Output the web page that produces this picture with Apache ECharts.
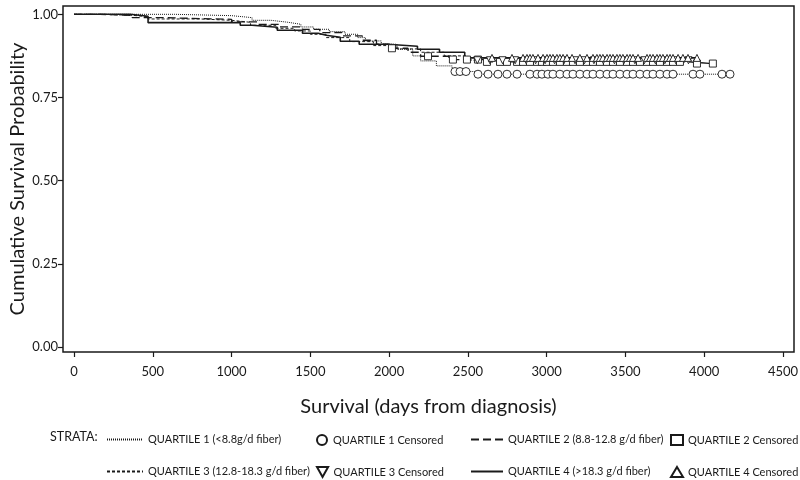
<!DOCTYPE html>
<html><head><meta charset="utf-8">
<script src="https://cdn.jsdelivr.net/npm/echarts@6/dist/echarts.min.js"></script>
<style>html,body{margin:0;padding:0;background:#fff}#c{width:800px;height:480px}</style>
</head><body><div id="c"></div>
<script>
// ---- data ----
var xTicks = [0,500,1000,1500,2000,2500,3000,3500,4000,4500];
var yTicks = [0,0.25,0.5,0.75,1];
var names = ['QUARTILE 1 (<8.8g/d fiber)','QUARTILE 2 (8.8-12.8 g/d fiber)','QUARTILE 3 (12.8-18.3 g/d fiber)','QUARTILE 4 (>18.3 g/d fiber)'];
var cNames = ['QUARTILE 1 Censored','QUARTILE 2 Censored','QUARTILE 3 Censored','QUARTILE 4 Censored'];

var q1Times = [0,640,1000,1130,1250,1360,1440,1520,1620,1720,1800,1850,1950,2050,2150,2200,2300,2400,2550,4165];
var q1Surv  = [1,0.996,0.99,0.982,0.976,0.97,0.962,0.955,0.948,0.94,0.93,0.92,0.91,0.895,0.875,0.86,0.845,0.828,0.82,0.82];
var q2Times = [0,165,370,560,1000,1170,1300,1450,1560,1700,1830,1920,2000,2120,2200,2380,2600,3900,4055];
var q2Surv  = [1,0.997,0.99,0.985,0.977,0.97,0.962,0.955,0.945,0.935,0.922,0.91,0.898,0.886,0.874,0.864,0.857,0.852,0.852];
var q3Times = [0,165,370,470,800,1000,1120,1280,1400,1500,1600,1750,1900,2050,2200,2350,2500,3950];
var q3Surv  = [1,0.997,0.993,0.986,0.982,0.976,0.967,0.958,0.95,0.94,0.93,0.918,0.906,0.896,0.886,0.875,0.862,0.862];
var q4Times = [0,355,470,1055,1130,1290,1450,1550,1600,1690,1810,1990,2180,2320,2480,3954];
var q4Surv  = [1,0.994,0.975,0.967,0.961,0.952,0.943,0.937,0.931,0.919,0.91,0.904,0.895,0.886,0.869,0.869];

var q1Cens = [2418,2450,2488,2564,2628,2691,2748,2812,2894,2939,2970,3008,3040,3084,3129,3167,3211,3256,3294,3338,3383,3421,3465,3510,3548,3592,3637,3675,3719,3764,3802,3929,3973,4113,4164];
var q2Cens = [2018,2247,2405,2494,2564,2621,2704,2748,2812,2850,2894,2939,2970,3002,3040,3084,3129,3167,3211,3256,3294,3338,3383,3421,3465,3510,3548,3592,3637,3675,3719,3764,3802,3846,3954,4055];
var q3Cens = [2560,2640,2720,2800,2870,2930,2990,3050,3110,3180,3240,3300,3360,3430,3490,3560,3620,3690,3750,3820,3900];
var q4Cens = [2653,2780,2850,2875,2894,2913,2945,2977,3002,3021,3040,3065,3084,3104,3129,3161,3211,3256,3294,3319,3338,3357,3383,3402,3421,3446,3465,3484,3510,3529,3548,3580,3637,3656,3675,3700,3719,3738,3764,3783,3802,3834,3865,3897,3954];

// ---- build ----
function pairs(t,s){return t.map(function(v,i){return [v,s[i]];});}
function survAt(t,s,x){var v=s[0];for(var i=0;i<t.length;i++){if(t[i]<=x)v=s[i];}return v;}
function cens(t,s,c){return c.map(function(x){return [x,survAt(t,s,x)];});}

var FONT = "Lato";
var ink = '#1a1a1a';
var downTri = 'path://M0,0 L10,0 L5,9 Z';

function lineSeries(name,t,s,type,w){
  return {name:name,type:'line',step:'end',data:pairs(t,s),symbol:'none',showSymbol:false,
    lineStyle:{color:ink,width:w,type:type},itemStyle:{color:ink},z:2,animation:false};
}
function scatSeries(name,data,sym,size){
  return {name:name,type:'scatter',data:data,symbol:sym,symbolSize:size,
    itemStyle:{color:'#fff',borderColor:ink,borderWidth:0.9,opacity:1},z:3,animation:false};
}
var legTS = {fontSize:11,color:ink,fontFamily:FONT};
function legLine(name,left,top,w){
  return {left:left,top:top,itemWidth:w,itemHeight:12,selectedMode:false,
    data:[{name:name,itemStyle:{opacity:0}}],textStyle:legTS};
}
function legMark(name,left,top){
  return {left:left,top:top,itemWidth:12,itemHeight:10,selectedMode:false,
    data:[{name:name,itemStyle:{borderWidth:2,color:'#fff',borderColor:ink}}],textStyle:legTS};
}

var chart = echarts.init(document.getElementById('c'));
chart.setOption({
  animation:false,
  textStyle:{fontFamily:FONT},
  grid:{left:63,right:6,top:6,bottom:128,show:true,borderColor:ink,borderWidth:1.5,backgroundColor:'#fff',
    outerBoundsMode:'none',containLabel:false},
  xAxis:{type:'value',min:-70,max:4570,
    name:'Survival (days from diagnosis)',nameLocation:'middle',nameGap:45,
    nameTextStyle:{fontSize:20,color:ink,fontFamily:FONT},
    axisLine:{show:false,onZero:false},splitLine:{show:false},
    axisTick:{show:true,length:5,lineStyle:{color:ink,width:1.2},customValues:xTicks},
    axisLabel:{color:ink,fontSize:13,margin:13,customValues:xTicks,fontFamily:"Liberation Sans Narrow, Lato",
      formatter:function(v){return String(v);}}},
  yAxis:{type:'value',min:-0.015,max:1.025,
    name:'Cumulative Survival Probability',nameLocation:'middle',nameGap:35,nameRotate:90,nameMoveOverlap:false,
    nameTextStyle:{fontSize:20,color:ink,fontFamily:FONT},
    axisLine:{show:false,onZero:false},splitLine:{show:false},
    axisTick:{show:true,length:5,lineStyle:{color:ink,width:1.2},customValues:yTicks},
    axisLabel:{color:ink,fontSize:13,margin:5,customValues:yTicks,fontFamily:"Liberation Sans Narrow, Lato",
      formatter:function(v){return v.toFixed(2);}}},
  legend:[
    legLine(names[0],101,429,36),
    legLine(names[2],101,461,36),
    legMark(cNames[0],311,429),
    legMark(cNames[2],311,461),
    legLine(names[1],465,429,32),
    legLine(names[3],465,461,32),
    legMark(cNames[1],665,429),
    legMark(cNames[3],665,461)
  ],
  graphic:[{type:'text',left:50,top:430,style:{text:'STRATA:',fontSize:12.5,fill:ink,fontFamily:FONT}}],
  series:[
    lineSeries(names[0],q1Times,q1Surv,[1,1],1),
    lineSeries(names[1],q2Times,q2Surv,[8,4],1.3),
    lineSeries(names[2],q3Times,q3Surv,[3,2],1),
    lineSeries(names[3],q4Times,q4Surv,'solid',1.6),
    scatSeries(cNames[0],cens(q1Times,q1Surv,q1Cens),'circle',8),
    scatSeries(cNames[1],cens(q2Times,q2Surv,q2Cens),'rect',7),
    scatSeries(cNames[2],cens(q3Times,q3Surv,q3Cens),downTri,7),
    scatSeries(cNames[3],cens(q4Times,q4Surv,q4Cens),'triangle',7)
  ]
});
</script></body></html>
